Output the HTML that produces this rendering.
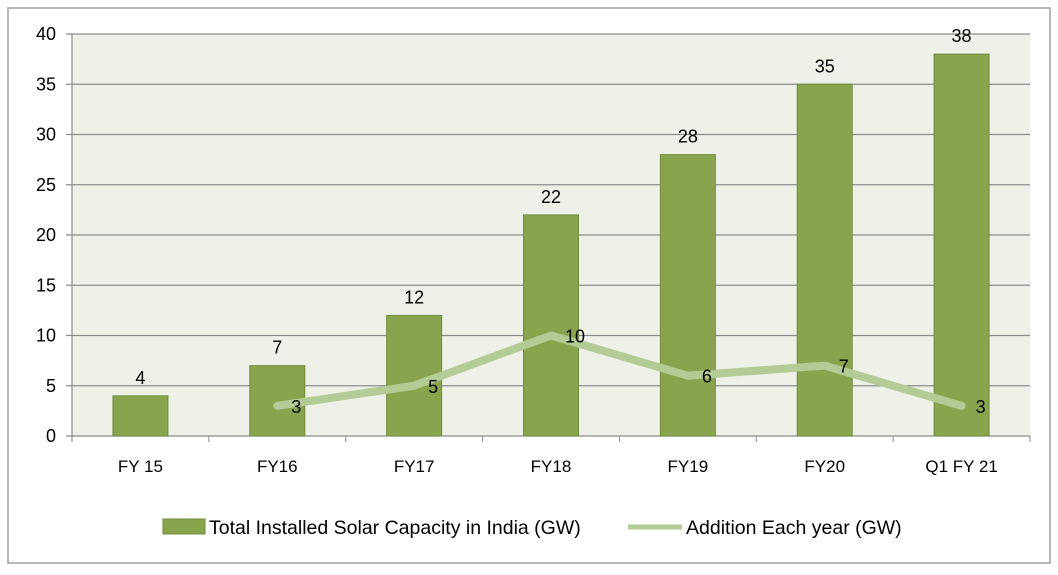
<!DOCTYPE html>
<html><head><meta charset="utf-8"><style>
body{margin:0;background:#fff;}
svg text{font-family:"Liberation Sans",sans-serif;fill:#000;}
</style></head><body>
<svg width="1058" height="570" font-size="17">
<rect x="8" y="8" width="1042" height="555" fill="#fff" stroke="#a0a0a0" stroke-width="1.5"/>
<g id="g"></g>
</svg>
<script>
const categories=["FY 15","FY16","FY17","FY18","FY19","FY20","Q1 FY 21"];
const totalCapacity=[4,7,12,22,28,35,38];
const additions=[null,3,5,10,6,7,3];
const yTicks=[0,5,10,15,20,25,30,35,40];
const L=72,R=1030,T=34,B=436,yMax=40;
const NS="http://www.w3.org/2000/svg";
const g=document.getElementById('g');
function el(t,a,p){const e=document.createElementNS(NS,t);for(const k in a)e.setAttribute(k,a[k]);(p||g).appendChild(e);return e;}
const bw=(R-L)/categories.length;
const x=i=>L+bw*(i+0.5);
const y=v=>B-(B-T)*v/yMax;
let bg=el('rect',{x:L,y:T,width:R-L,height:B-T,fill:'#eff1e8'});


yTicks.forEach(t=>{
 let ln=el('line',{x1:L-6,x2:R,y1:y(t),y2:y(t),stroke:'#8c8c8c','stroke-width':1.2});
 
 
 let tx=el('text',{x:L-16,y:y(t)+6,'text-anchor':'end','font-size':18});tx.textContent=t;
 
 
});
let ax=el('line',{x1:L,x2:L,y1:T,y2:B+6,stroke:'#8c8c8c','stroke-width':1.2});


for(let i=0;i<=categories.length;i++){let tk=el('line',{x1:L+bw*i,x2:L+bw*i,y1:B,y2:B+6,stroke:'#8c8c8c'});
 
 }
categories.forEach((c,i)=>{
 const v=totalCapacity[i];
 let r=el('rect',{x:x(i)-27.5,y:y(v),width:55,height:B-y(v),fill:'#88a54e',stroke:'#6f8c3c','stroke-width':1});
 
 
 let lb=el('text',{x:x(i),y:y(v)-12,'text-anchor':'middle','font-size':18});lb.textContent=v;
 
 
 let xl=el('text',{x:x(i),y:472,'text-anchor':'middle','font-size':17});xl.textContent=c;
 
 
});
let pts=[];additions.forEach((v,i)=>{if(v!=null)pts.push(x(i)+','+y(v));});
let pl=el('polyline',{points:pts.join(' '),fill:'none',stroke:'#b3cb94','stroke-width':8,'stroke-linecap':'round','stroke-linejoin':'round'});


additions.forEach((v,i)=>{if(v==null)return;
 let t=el('text',{x:x(i)+14,y:y(v)+7,'font-size':18});t.textContent=v;
 
 });
let lg=el('g',{});


let s1=el('rect',{x:163,y:519,width:42,height:15,fill:'#88a54e',stroke:'#6f8c3c'},lg);


let t1=el('text',{x:209,y:534,'font-size':19.5},lg);t1.textContent='Total Installed Solar Capacity in India (GW)';


let s2=el('line',{x1:628,x2:682,y1:527,y2:527,stroke:'#b3cb94','stroke-width':5},lg);


let t2=el('text',{x:686,y:534,'font-size':19.5},lg);t2.textContent='Addition Each year (GW)';


</script>
</body></html>
